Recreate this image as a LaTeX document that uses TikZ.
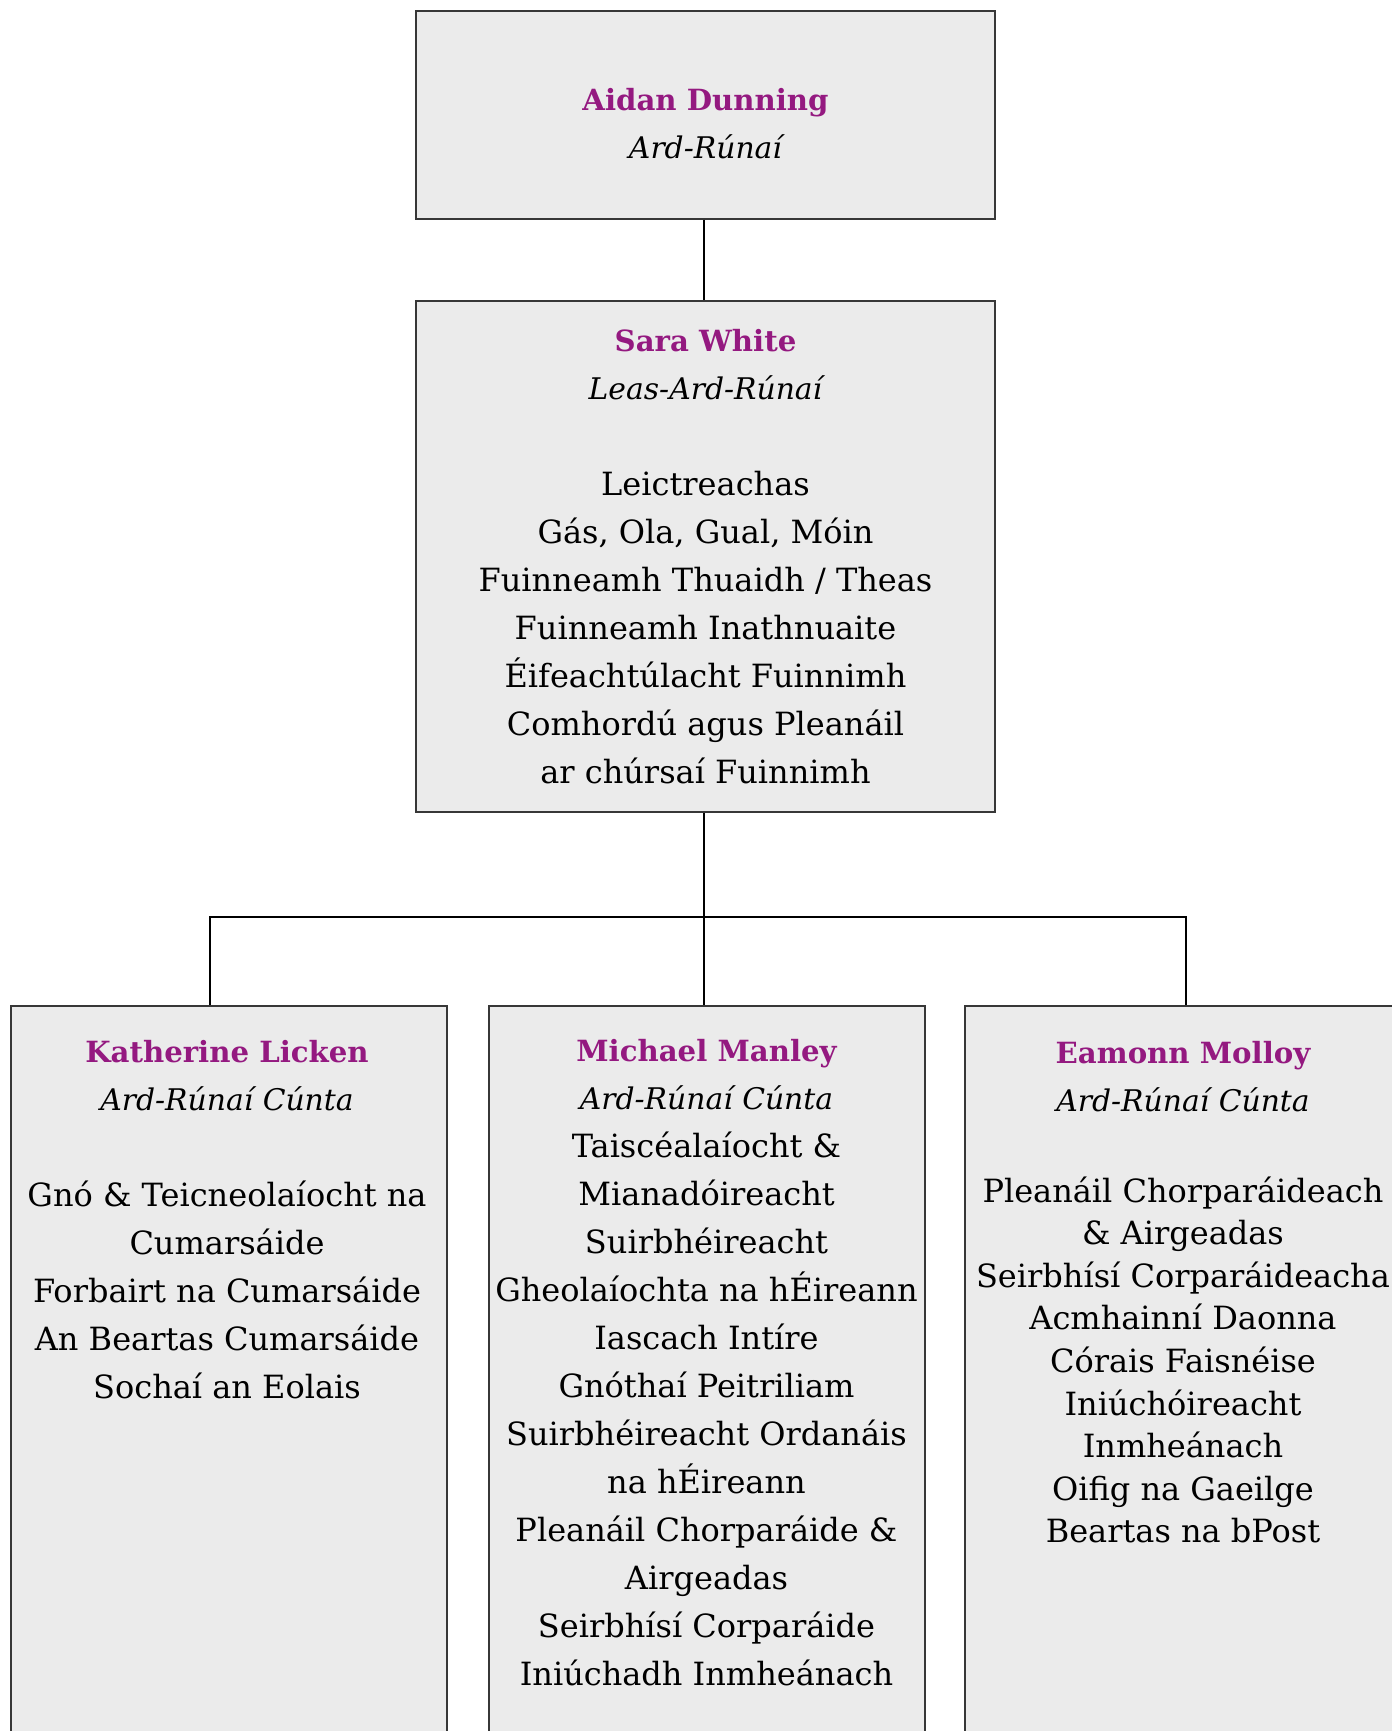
\documentclass[tikz,border=0pt]{standalone}
\usepackage{fontspec}
\setmainfont{DejaVu Serif}
\usetikzlibrary{positioning}

\definecolor{namepurple}{RGB}{148,25,128}
\definecolor{boxgray}{RGB}{235,235,235}
\definecolor{edgegray}{RGB}{55,55,55}

\newcommand{\who}[1]{{\fontsize{14.6}{24}\selectfont\bfseries\color{namepurple}#1}}
\newcommand{\rank}[1]{{\fontsize{14.9}{24}\selectfont\itshape #1}}

\tikzset{
  unitbox/.style={draw=edgegray, fill=boxgray, line width=0.6pt, minimum width=289.5pt},
  lowbox/.style={unitbox, minimum width=218pt, minimum height=377pt},
  txt/.style={anchor=north, align=center, inner sep=0pt, font=\fontsize{16}{24}\selectfont},
  link/.style={line width=1.1pt, black}
}

\begin{document}
\begin{tikzpicture}[x=0.5pt,y=-0.5pt]
    \useasboundingbox (0,0) rectangle (1392,1731);
    \clip (0,0) rectangle (1392,1731);

    % boxes
    \node[unitbox, minimum height=104pt] (ad) at (705.5,115) {};
    \node[unitbox, minimum height=255.5pt] (sw) at (705.5,556.5) {};
    \node[lowbox] (kl) at (229,1383) {};
    \node[lowbox] (mm) at (707,1383) {};
    \node[lowbox] (em) at (1183,1383) {};

    % connectors
    \coordinate (bus) at (704,917);
    \draw[link] ([xshift=-0.75pt]ad.south) -- ([xshift=-0.75pt]sw.north);
    \draw[link] ([xshift=-0.75pt]sw.south) -- (bus |- mm.north);
    \draw[link] ([xshift=-9.5pt]kl.north) |- (bus) -| ([xshift=1.5pt]em.north);

    % texts
    \node[txt] (adT) at (705.5,88) {\who{Aidan Dunning}\\ \rank{Ard-Rúnaí}};
    \node[txt] (swT) at (705.5,329) {\who{Sara White}\\ \rank{Leas-Ard-Rúnaí}\\[24pt]
        Leictreachas\\ Gás, Ola, Gual, Móin\\ Fuinneamh Thuaidh / Theas\\
        Fuinneamh Inathnuaite\\ Éifeachtúlacht Fuinnimh\\ Comhordú agus Pleanáil\\
        ar chúrsaí Fuinnimh};
    \node[txt] (klT) at (227,1040) {\who{Katherine Licken}\\ \rank{Ard-Rúnaí Cúnta}\\[24pt]
        Gnó \& Teicneolaíocht na\\ Cumarsáide\\ Forbairt na Cumarsáide\\
        An Beartas Cumarsáide\\ Sochaí an Eolais};
    \node[txt] (mmT) at (706.5,1039) {\who{Michael Manley}\\ \rank{Ard-Rúnaí Cúnta}\\
        Taiscéalaíocht \&\\ Mianadóireacht\\ Suirbhéireacht\\ Gheolaíochta na hÉireann\\
        Iascach Intíre\\ Gnóthaí Peitriliam\\ Suirbhéireacht Ordanáis\\ na hÉireann\\
        Pleanáil Chorparáide \&\\ Airgeadas\\ Seirbhísí Corparáide\\ Iniúchadh Inmheánach};
    \node[txt] (emT) at (1183,1041) {\who{Eamonn Molloy}\\ \rank{Ard-Rúnaí Cúnta}};
    \node[txt, font=\fontsize{16}{21.3}\selectfont] (emL) at (1183,1176) {Pleanáil Chorparáideach\\
        \& Airgeadas\\ Seirbhísí Corparáideacha\\ Acmhainní Daonna\\ Córais Faisnéise\\
        Iniúchóireacht\\ Inmheánach\\ Oifig na Gaeilge\\ Beartas na bPost};
\end{tikzpicture}
\end{document}
